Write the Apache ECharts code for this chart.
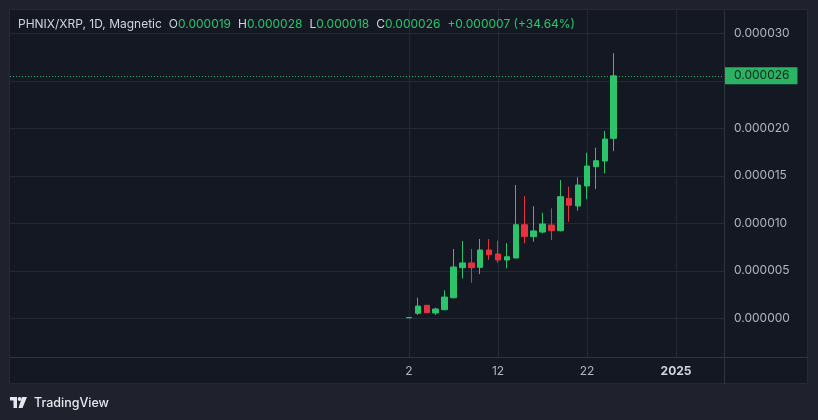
<!DOCTYPE html>
<html><head><meta charset="utf-8">
<script src="https://cdn.jsdelivr.net/npm/echarts@6/dist/echarts.min.js"></script>
<style>html,body{margin:0;padding:0;background:#1f212d;}#c{width:818px;height:420px;}</style>
</head><body><div id="c"></div><script>
// ---- data (PHNIX/XRP daily) ----
const dates  = ['2024-12-02','2024-12-03','2024-12-04','2024-12-05','2024-12-06','2024-12-07','2024-12-08','2024-12-09','2024-12-10','2024-12-11','2024-12-12','2024-12-13','2024-12-14','2024-12-15','2024-12-16','2024-12-17','2024-12-18','2024-12-19','2024-12-20','2024-12-21','2024-12-22','2024-12-23','2024-12-24','2024-12-25'];
const opens  = [0.05e-6,0.53e-6,1.37e-6,0.56e-6,0.91e-6,2.17e-6,5.33e-6,5.83e-6,5.37e-6,7.19e-6,6.77e-6,6.14e-6,6.35e-6,9.85e-6,8.60e-6,9.08e-6,9.82e-6,9.22e-6,12.63e-6,11.82e-6,13.93e-6,15.96e-6,16.56e-6,18.94e-6];
const closes = [0.08e-6,1.29e-6,0.59e-6,0.98e-6,2.24e-6,5.40e-6,5.83e-6,5.33e-6,7.19e-6,6.70e-6,6.14e-6,6.48e-6,9.85e-6,8.60e-6,9.20e-6,9.93e-6,9.22e-6,12.80e-6,11.90e-6,14.03e-6,16.03e-6,16.59e-6,18.87e-6,25.52e-6];
const lows   = [0.03e-6,0.35e-6,0.55e-6,0.35e-6,0.85e-6,2.10e-6,4.20e-6,3.75e-6,4.66e-6,6.14e-6,5.85e-6,5.26e-6,6.30e-6,7.90e-6,8.06e-6,8.95e-6,8.24e-6,9.15e-6,10.17e-6,11.33e-6,12.53e-6,13.60e-6,15.26e-6,17.60e-6];
const highs  = [0.10e-6,2.17e-6,1.40e-6,1.12e-6,2.95e-6,7.30e-6,8.14e-6,7.30e-6,8.35e-6,8.35e-6,8.17e-6,7.90e-6,14.03e-6,12.87e-6,11.80e-6,11.10e-6,11.58e-6,14.56e-6,13.85e-6,14.84e-6,17.43e-6,17.96e-6,19.72e-6,27.90e-6];
const xTickDates  = ['2024-12-02','2024-12-12','2024-12-22','2025-01-01'];
const xTickLabels = ['2','12','22','2025'];
const yGridValues  = [0, 0.000005, 0.00001, 0.000015, 0.00002, 0.000025, 0.00003];
const yLabelValues = [0, 0.000005, 0.00001, 0.000015, 0.00002, 0.00003];
const headerTitle = 'PHNIX/XRP, 1D, Magnetic';
const headerKeys  = ['O','H','L','C'];
const headerVals  = ['0.000019','0.000028','0.000018','0.000026'];
const headerChange = '+0.000007 (+34.64%)';
const xRange = ['2024-10-18T04:00:00Z','2025-01-06T09:20:00Z'];
const yRange = [-0.00000407, 0.00003245];

// ---- styling ----
const UP = '#2cc46a', DOWN = '#e5323e';
const GRID = '#242935', SEP = '#2f3441', TXT = '#b2b5be';
const FONT = 'Inter, "Noto Sans", sans-serif';
// day number (days since 1970-01-01 UTC)
const toDay = s => Date.parse(s.length === 10 ? s + 'T00:00:00Z' : s) / 86400000;

const candleData = dates.map((d, i) => [toDay(d), opens[i], closes[i], lows[i], highs[i]]);
const xTickDays = xTickDates.map(toDay);
const lastClose = closes[closes.length - 1];
const xMin = toDay(xRange[0]), xMax = toDay(xRange[1]);

let header = '{t|' + headerTitle + '}';
headerKeys.forEach((k, i) => { header += '{s|}{k|' + k + '}{v|' + headerVals[i] + '}'; });
header += '{s|}{v|' + headerChange + '}';

const chart = echarts.init(document.getElementById('c'), null, {renderer: 'canvas'});
chart.setOption({
  backgroundColor: '#1f212d',
  animation: false,
  textStyle: {fontFamily: FONT},
  grid: {left: 10, right: 94, top: 10, bottom: 63, show: false},
  xAxis: {
    type: 'value',
    min: xMin, max: xMax,
    axisLine: {show: false},
    axisTick: {show: false, customValues: xTickDays},
    splitLine: {show: true, lineStyle: {color: GRID, width: 1}},
    axisLabel: {
      customValues: xTickDays, margin: 8, color: TXT, fontSize: 12, fontFamily: FONT,
      formatter: v => {
        let idx = -1;
        xTickDays.forEach((d, i) => { if (Math.abs(d - v) < 0.01) idx = i; });
        const lab = idx >= 0 ? xTickLabels[idx] : '';
        return lab.length === 4 ? '{b|' + lab + '}' : lab;
      },
      rich: {b: {fontWeight: 'bold', color: '#d1d4dc', fontSize: 12, fontFamily: FONT}}
    }
  },
  yAxis: {
    type: 'value', position: 'right', scale: false,
    min: yRange[0], max: yRange[1],
    axisLine: {show: false},
    axisTick: {show: false, customValues: yGridValues},
    splitLine: {show: true, lineStyle: {color: GRID, width: 1}},
    axisLabel: {
      customValues: yLabelValues, margin: 10, color: TXT, fontSize: 12, fontFamily: FONT,
      formatter: v => v.toFixed(6)
    }
  },
  graphic: [
    {type: 'rect', z: -10, shape: {x: 9.5, y: 9.5, width: 798, height: 374}, style: {fill: '#141823', stroke: '#262a36', lineWidth: 1}, silent: true},
    {type: 'line', z: 10, shape: {x1: 724.5, y1: 10, x2: 724.5, y2: 384}, style: {stroke: SEP, lineWidth: 1}, silent: true},
    {type: 'line', z: 10, shape: {x1: 10, y1: 357.5, x2: 808, y2: 357.5}, style: {stroke: SEP, lineWidth: 1}, silent: true},
    {type: 'text', z: 20, x: 18, y: 24, style: {
      text: header, verticalAlign: 'middle', fontFamily: FONT, fontSize: 12,
      rich: {
        t: {fill: '#d1d4dc', fontSize: 12, fontFamily: FONT},
        k: {fill: '#d1d4dc', fontSize: 12, fontFamily: FONT},
        v: {fill: UP, fontSize: 12, fontFamily: FONT},
        s: {width: 7}
      }}},
    // TradingView logo
    {type: 'group', x: 10, y: 397, children: [
      {type: 'rect', shape: {x: 0, y: 0, width: 7, height: 3.5}, style: {fill: '#e6e8ee'}},
      {type: 'rect', shape: {x: 3.5, y: 0, width: 3.5, height: 11}, style: {fill: '#e6e8ee'}},
      {type: 'circle', shape: {cx: 9.6, cy: 2, r: 1.9}, style: {fill: '#e6e8ee'}},
      {type: 'polygon', shape: {points: [[12, 0], [17, 0], [12.5, 11], [8.5, 11]]}, style: {fill: '#e6e8ee'}}
    ]},
    {type: 'text', x: 34, y: 403, style: {text: 'TradingView', fill: '#e6e8ee', fontSize: 12.5, fontWeight: 500, fontFamily: FONT, verticalAlign: 'middle'}}
  ],
  series: [{
    type: 'candlestick',
    data: candleData,
    barWidth: 6,
    itemStyle: {color: UP, color0: DOWN, borderColor: UP, borderColor0: DOWN, borderWidth: 1},
    markLine: {
      silent: true, symbol: 'none',
      data: [[{coord: [xMin, lastClose]}, {coord: [xMax, lastClose]}]],
      lineStyle: {type: [1, 2], color: UP, width: 1, opacity: 0.9},
      label: {
        show: true, position: 'end', distance: 0,
        formatter: () => lastClose.toFixed(6),
        backgroundColor: UP, color: '#0f1a14', fontSize: 12, fontFamily: FONT,
        padding: [3, 8, 2, 10]
      }
    }
  }]
});
</script></body></html>
